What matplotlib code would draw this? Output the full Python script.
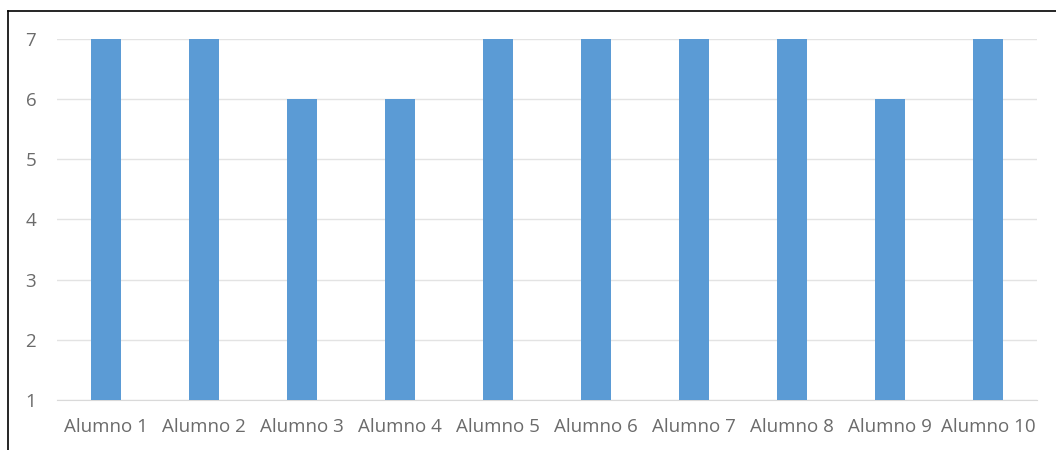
import matplotlib
matplotlib.use('Agg')
import matplotlib.pyplot as plt
from matplotlib.lines import Line2D

plt.rcParams['font.family'] = ['Open Sans', 'DejaVu Sans']

# datos
alumnos = ['Alumno 1', 'Alumno 2', 'Alumno 3', 'Alumno 4', 'Alumno 5',
           'Alumno 6', 'Alumno 7', 'Alumno 8', 'Alumno 9', 'Alumno 10']
notas = [7, 7, 6, 6, 7, 7, 7, 7, 6, 7]
yticks = [1, 2, 3, 4, 5, 6, 7]

W, H = 1056, 450
fig = plt.figure(figsize=(W / 100, H / 100), dpi=100)
ax = fig.add_axes([57 / W, 1 - 400 / H, (1037 - 57) / W, (400 - 39) / H])

x = range(len(alumnos))
base = yticks[0]
ax.bar(x, [n - base for n in notas], bottom=base, width=0.3,
       color='#5B9BD5', zorder=3)

ax.set_xlim(-0.5, len(alumnos) - 0.5)
ax.set_ylim(yticks[0], yticks[-1])
ax.set_yticks(yticks)
ax.set_xticks(list(x))
ax.set_xticklabels(alumnos)
ax.yaxis.grid(True, color='#E3E3E3', linewidth=1, zorder=0)
for s in ['top', 'right', 'left']:
    ax.spines[s].set_visible(False)
ax.spines['bottom'].set_color('#D9D9D9')
ax.tick_params(axis='both', length=0, colors='#6B6B6B', labelsize=13.5)
ax.tick_params(axis='x', pad=13)
ax.tick_params(axis='y', pad=15)

# marco exterior
fig.add_artist(Line2D([8 / W, 1], [1 - 11 / H, 1 - 11 / H], color='black', lw=1.2))
fig.add_artist(Line2D([8 / W, 8 / W], [1 - 11 / H, 0], color='black', lw=1.2))

fig.savefig('out.png', dpi=100)
